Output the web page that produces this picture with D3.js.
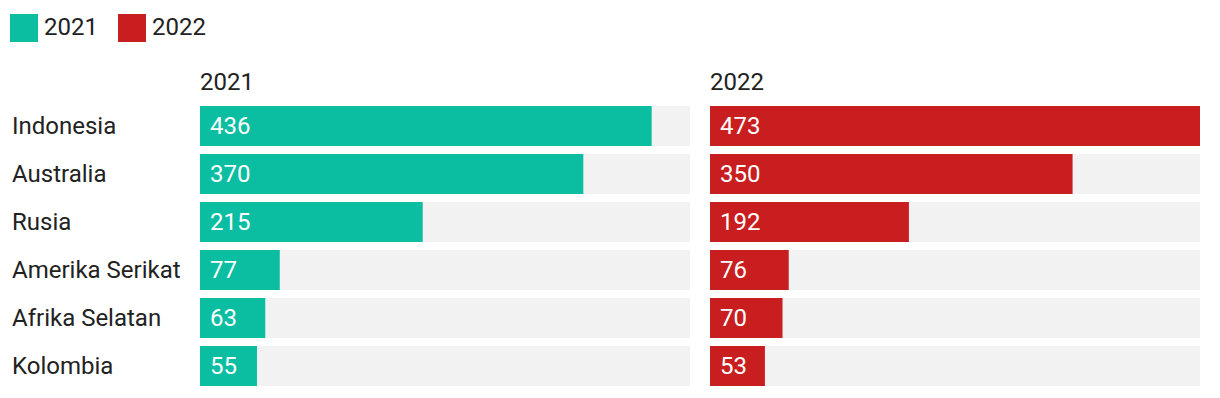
<!DOCTYPE html>
<html>
<head>
<meta charset="utf-8">
<script src="https://cdn.jsdelivr.net/npm/d3@7"></script>
<style>
  body { margin: 0; background: #fff; }
  text { font-family: Roboto, sans-serif; }
</style>
</head>
<body>
<script>
var countries = ["Indonesia", "Australia", "Rusia", "Amerika Serikat", "Afrika Selatan", "Kolombia"];
var years = ["2021", "2022"];
var values2021 = [436, 370, 215, 77, 63, 55];
var values2022 = [473, 350, 192, 76, 70, 53];
var colors = ["#0bbda1", "#c91e1f"];

(function () {
  "use strict";
  var w = 1220, h = 398;
  var series = [values2021, values2022];
  var panelX = [200, 710], panelW = 490;
  var fs = 24;

  var svg = d3.select("body").append("svg")
    .attr("width", w)
    .attr("height", h);

  // legend
  var leg = svg.selectAll("g.leg")
    .data(years)
    .enter().append("g")
    .attr("class", "leg")
    .attr("transform", (d, i) => "translate(" + (10 + i * 108) + ",14)");
  leg.append("rect")
    .attr("width", 28).attr("height", 28)
    .attr("fill", (d, i) => colors[i]);
  leg.append("text")
    .attr("x", 34).attr("y", 21)
    .attr("font-size", fs).attr("fill", "#222")
    .text(d => d);

  // step 48, bar 40
  var y = d3.scaleBand()
    .domain(countries)
    .range([106, 106 + 48 * countries.length - 8])
    .paddingInner(8 / 48)
    .paddingOuter(0);

  var x = d3.scaleLinear()
    .domain([0, d3.max(values2021.concat(values2022))])
    .range([0, panelW]);

  // row labels
  svg.selectAll("text.cat")
    .data(countries)
    .enter().append("text")
    .attr("class", "cat")
    .attr("x", 12)
    .attr("y", d => y(d) + y.bandwidth() / 2)
    .attr("dy", "0.35em")
    .attr("font-size", fs).attr("fill", "#222")
    .text(d => d);

  series.forEach(function (vals, p) {
    var g = svg.append("g").attr("transform", "translate(" + panelX[p] + ",0)");
    g.append("text")
      .attr("x", 0).attr("y", 90)
      .attr("font-size", fs).attr("fill", "#222")
      .text(years[p]);
    g.selectAll("rect.bg")
      .data(countries)
      .enter().append("rect")
      .attr("class", "bg")
      .attr("x", 0).attr("y", d => y(d))
      .attr("width", panelW).attr("height", y.bandwidth())
      .attr("fill", "#f2f2f2");
    g.selectAll("rect.bar")
      .data(vals)
      .enter().append("rect")
      .attr("class", "bar")
      .attr("x", 0).attr("y", (d, i) => y(countries[i]))
      .attr("width", d => x(d)).attr("height", y.bandwidth())
      .attr("fill", colors[p]);
    g.selectAll("text.val")
      .data(vals)
      .enter().append("text")
      .attr("class", "val")
      .attr("x", 10).attr("y", (d, i) => y(countries[i]) + y.bandwidth() / 2)
      .attr("dy", "0.35em")
      .attr("font-size", fs).attr("fill", "#fff")
      .text(d => d);
  });
})();
</script>
</body>
</html>
